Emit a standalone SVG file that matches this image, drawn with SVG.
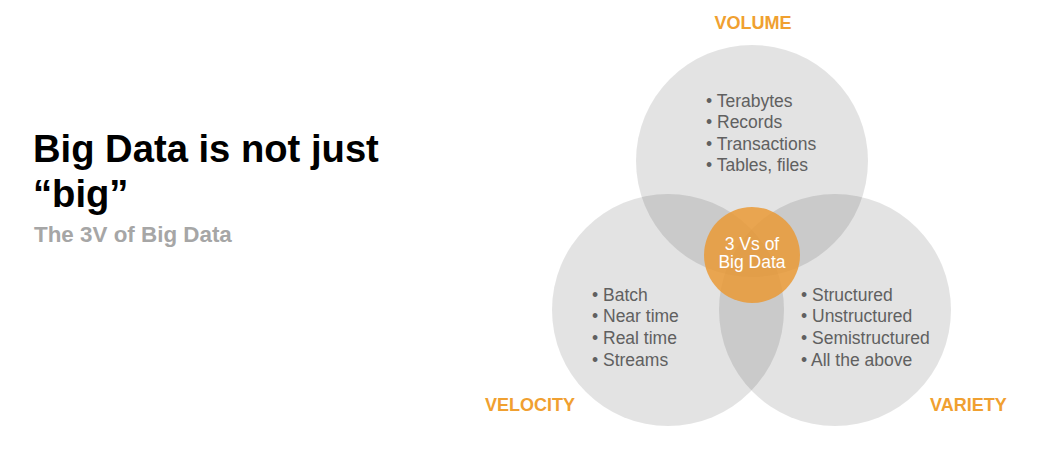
<svg xmlns="http://www.w3.org/2000/svg" width="1052" height="474" viewBox="0 0 1052 474">
  <style>
    .title { font-family: "Liberation Sans", Arial, sans-serif; font-weight: bold; font-size: 38.2px; fill: #000; }
    .sub { font-family: "Liberation Sans", Arial, sans-serif; font-weight: bold; font-size: 22.4px; fill: #a6a6a6; }
    .vlabel { font-family: "Liberation Sans", Arial, sans-serif; font-weight: bold; font-size: 18px; fill: #f0a030; }
    .item { font-family: "Liberation Sans", Arial, sans-serif; font-size: 17.5px; fill: #606060; }
    .core { font-family: "Liberation Sans", Arial, sans-serif; font-size: 17.5px; fill: #ffffff; text-anchor: middle; }
    .set { fill: #000; fill-opacity: 0.11; }
  </style>

  <!-- heading -->
  <g id="heading">
    <text class="title" x="33" y="162">Big Data is not just</text>
    <text class="title" x="33" y="207">“big”</text>
    <text class="sub" x="34" y="242">The 3V of Big Data</text>
  </g>

  <!-- overlapping sets -->
  <g id="volume">
    <circle class="set" cx="752" cy="161" r="116"/>
    <text class="vlabel" x="753" y="29" text-anchor="middle">VOLUME</text>
    <g class="item">
      <text x="706" y="107">• Terabytes</text>
      <text x="706" y="128">• Records</text>
      <text x="706" y="150">• Transactions</text>
      <text x="706" y="171">• Tables, files</text>
    </g>
  </g>

  <g id="velocity">
    <circle class="set" cx="668" cy="310" r="116"/>
    <text class="vlabel" x="485" y="411">VELOCITY</text>
    <g class="item">
      <text x="592" y="301">• Batch</text>
      <text x="592" y="322">• Near time</text>
      <text x="592" y="344">• Real time</text>
      <text x="592" y="366">• Streams</text>
    </g>
  </g>

  <g id="variety">
    <circle class="set" cx="835" cy="310" r="116"/>
    <text class="vlabel" x="930" y="411">VARIETY</text>
    <g class="item">
      <text x="801" y="301">• Structured</text>
      <text x="801" y="322">• Unstructured</text>
      <text x="801" y="344">• Semistructured</text>
      <text x="801" y="366">• All the above</text>
    </g>
  </g>

  <g id="core">
    <circle cx="752" cy="255" r="48" fill="#ea9a36" fill-opacity="0.85"/>
    <text class="core" x="752" y="250">3 Vs of</text>
    <text class="core" x="752" y="268">Big Data</text>
  </g>

  <g id="connectors"></g>
</svg>
